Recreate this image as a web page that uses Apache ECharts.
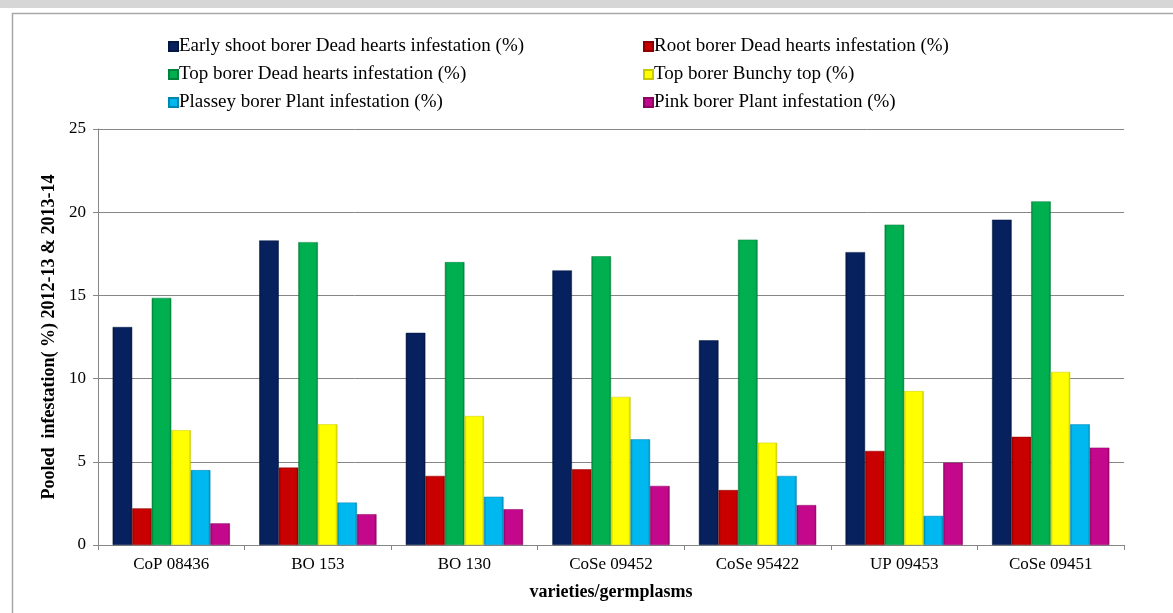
<!DOCTYPE html>
<html>
<head>
<meta charset="utf-8">
<script src="https://cdn.jsdelivr.net/npm/echarts@6/dist/echarts.min.js"></script>
<style>
html,body{margin:0;padding:0;background:#fff;}
#chart{width:1173px;height:613px;}
</style>
</head>
<body>
<div id="chart"></div>
<script>
const categories = ['CoP 08436', 'BO 153', 'BO 130', 'CoSe 09452', 'CoSe 95422', 'UP 09453', 'CoSe 09451'];
const seriesNames = [
  'Early shoot borer Dead hearts infestation (%)',
  'Root borer Dead hearts infestation (%)',
  'Top borer Dead hearts infestation (%)',
  'Top borer Bunchy top (%)',
  'Plassey borer Plant infestation (%)',
  'Pink borer Plant infestation (%)'
];
const earlyShootDeadHearts = [13.1, 18.3, 12.75, 16.5, 12.3, 17.6, 19.55];
const rootBorerDeadHearts  = [2.2, 4.65, 4.15, 4.55, 3.3, 5.65, 6.5];
const topBorerDeadHearts   = [14.85, 18.2, 17.0, 17.35, 18.35, 19.25, 20.65];
const topBorerBunchyTop    = [6.9, 7.25, 7.75, 8.9, 6.15, 9.25, 10.4];
const plasseyBorerPlant    = [4.5, 2.55, 2.9, 6.35, 4.15, 1.75, 7.25];
const pinkBorerPlant       = [1.3, 1.85, 2.15, 3.55, 2.4, 4.95, 5.85];
const yTicks = [0, 5, 10, 15, 20, 25];

const seriesData = [earlyShootDeadHearts, rootBorerDeadHearts, topBorerDeadHearts, topBorerBunchyTop, plasseyBorerPlant, pinkBorerPlant];
const colors = ['#06215e', '#c80000', '#00b050', '#ffff00', '#00b8f0', '#c4088c'];
const darkColors = ['#031740', '#8a0000', '#00803a', '#c8c800', '#0085b0', '#8a0563'];

const font = 'Liberation Serif, Times New Roman, serif';

function barStyle(i) {
  return {
    color: {
      type: 'linear', x: 0, y: 0, x2: 1, y2: 0,
      colorStops: [
        {offset: 0, color: darkColors[i]},
        {offset: 0.12, color: colors[i]},
        {offset: 0.88, color: colors[i]},
        {offset: 1, color: darkColors[i]}
      ]
    },
    borderColor: darkColors[i],
    borderWidth: 0.5
  };
}

const legendText = {fontFamily: font, fontSize: 19, color: '#000', padding: [0, 0, 0, -4], lineHeight: 19};

const chart = echarts.init(document.getElementById('chart'), null, {renderer: 'canvas'});
const option = {
  animation: false,
  backgroundColor: '#ffffff',
  textStyle: {fontFamily: font},
  graphic: [
    {type: 'rect', left: 0, top: 0, shape: {width: 1173, height: 8}, style: {fill: '#d6d6d6'}, silent: true, z: -10},
    {type: 'rect', left: 10, top: 11, shape: {width: 1170, height: 640}, style: {fill: 'none', stroke: '#a8a8a8', lineWidth: 1.5}, silent: true, z: -10}
  ],
  legend: [
    {
      data: [seriesNames[0], seriesNames[2], seriesNames[4]],
      orient: 'vertical', left: 163, top: 32, itemGap: 9,
      itemWidth: 9, itemHeight: 9, icon: 'rect',
      textStyle: legendText
    },
    {
      data: [seriesNames[1], seriesNames[3], seriesNames[5]],
      orient: 'vertical', left: 638, top: 32, itemGap: 9,
      itemWidth: 9, itemHeight: 9, icon: 'rect',
      textStyle: legendText
    }
  ],
  grid: {left: 98, right: 49, top: 129, bottom: 68, containLabel: false},
  xAxis: {
    type: 'category',
    data: categories,
    name: 'varieties/germplasms',
    nameLocation: 'middle',
    nameGap: 38,
    nameTextStyle: {fontFamily: font, fontSize: 18, fontWeight: 'bold', color: '#000'},
    axisLine: {lineStyle: {color: '#868686', width: 1}},
    axisTick: {show: true, length: 5, lineStyle: {color: '#868686'}},
    axisLabel: {fontFamily: font, fontSize: 17, color: '#000', margin: 11}
  },
  yAxis: {
    type: 'value',
    min: yTicks[0], max: yTicks[yTicks.length - 1], interval: 5,
    name: 'Pooled  infestation( %) 2012-13 & 2013-14',
    nameLocation: 'middle',
    nameGap: 36,
    nameTextStyle: {fontFamily: font, fontSize: 18, fontWeight: 'bold', color: '#000'},
    axisLine: {show: true, lineStyle: {color: '#868686', width: 1}},
    axisTick: {show: true, length: 5, lineStyle: {color: '#868686'}},
    axisLabel: {fontFamily: font, fontSize: 17, color: '#000', margin: 12},
    splitLine: {show: true, lineStyle: {color: '#868686', width: 1}}
  },
  series: seriesNames.map((name, i) => ({
    name: name,
    type: 'bar',
    data: seriesData[i],
    barGap: '0%',
    barCategoryGap: '20%',
    itemStyle: barStyle(i)
  }))
};
option.color = colors;
chart.setOption(option);
</script>
</body>
</html>
